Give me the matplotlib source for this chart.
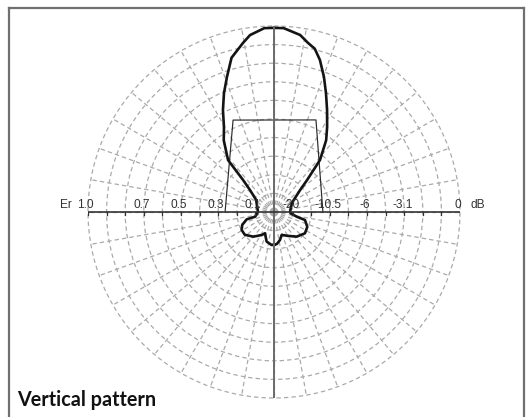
import numpy as np
import matplotlib
matplotlib.use("Agg")
import matplotlib.pyplot as plt
from matplotlib import font_manager as fm
from matplotlib.lines import Line2D

# ---------------- data ----------------
# field pattern: angle in degrees from vertical (positive = right), relative field (0..1)
pattern_theta = [-180, -176, -166, -157, -152, -140, -128, -119, -112, -105, -104,
                 -90, -56, -47.5, -44, -41.5, -35, -30.5, -26.6, -22.8, -19.2,
                 -15.4, -10.4, -7.7, -3, 0, 3, 8.4, 11.4, 14, 16.8, 20.3, 23.6,
                 27.5, 32, 36, 41.5, 46, 50, 63, 90, 94.5, 101.7, 104.5, 114,
                 124.5, 137.4, 149, 161.5, 168, 175, 180]
pattern_r = [0.176, 0.178, 0.164, 0.124, 0.140, 0.173, 0.199, 0.199, 0.184, 0.152, 0.105,
             0.086, 0.116, 0.175, 0.240, 0.373, 0.471, 0.530, 0.613, 0.694, 0.769,
             0.860, 0.924, 0.960, 0.990, 0.990, 0.990, 0.962, 0.927, 0.905, 0.854, 0.774, 0.698,
             0.618, 0.539, 0.477, 0.373, 0.247, 0.183, 0.108, 0.086, 0.090, 0.125, 0.172, 0.196,
             0.202, 0.180, 0.150, 0.130, 0.154, 0.173, 0.176]

# beamwidth bracket (thin line)
bracket_theta = [-90, -24, 24.5, 90]
bracket_r = [0.263, 0.541, 0.544, 0.263]

# scale labels along the horizontal axis
ring_r = [0.1, 0.2, 0.3, 0.4, 0.5, 0.6, 0.7, 0.8, 0.9, 1.0]
left_label_r = [1.0, 0.7, 0.5, 0.3, 0.1]
left_labels = ["1.0", "0.7", "0.5", "0.3", "0.1"]
right_label_r = [0.1, 0.3, 0.5, 0.7, 1.0]
right_labels = ["-20", "-10.5", "-6", "-3.1", "0"]
title_text = "Vertical pattern"

# ---------------- figure ----------------
W, H, DPI = 531, 417, 100
fig = plt.figure(figsize=(W / DPI, H / DPI), dpi=DPI)
fig.patch.set_facecolor("white")

cx, cy, R = 274.0, 205.0, 186.0   # pixels (from bottom-left)
rect = [(cx - R) / W, (cy - R) / H, 2 * R / W, 2 * R / H]

ax = fig.add_axes(rect, projection="polar")
ax.set_theta_zero_location("N")
ax.set_theta_direction(-1)
ax.set_ylim(0, 1.0)
ax.set_rgrids(ring_r, labels=[""] * len(ring_r))
ax.set_thetagrids(np.arange(0, 360, 10), labels=[""] * 36)
ax.grid(True, color="#aaaaaa", linestyle=(0, (3.5, 2.5)), linewidth=0.9)
for gl in ax.yaxis.get_gridlines() + ax.xaxis.get_gridlines():
    gl.set_clip_on(False)
ax.spines["polar"].set_visible(False)
ax.tick_params(length=0)
ax.patch.set_alpha(0)

ax.plot(np.deg2rad(pattern_theta), pattern_r, color="#141414", lw=1.9,
        solid_joinstyle="round", zorder=6)
ax.plot(np.deg2rad(bracket_theta), bracket_r, color="#2a2a2a", lw=0.85, zorder=5)

# overlay cartesian axes for the scale line and labels
ax2 = fig.add_axes(rect)
ax2.set_xlim(-1, 1)
ax2.set_ylim(-1, 1)
ax2.axis("off")
ax2.patch.set_visible(False)

px = 1.0 / R
ax2.plot([0, 0], [-1, 1], color="#6a6a6a", lw=1.4, zorder=4)
ax2.plot([-1, 1], [0, 0], color="#333333", lw=1.2, zorder=7)
for r in ring_r:
    for s in (-1, 1):
        ax2.plot([s * r, s * r], [0, -3 * px], color="#333333", lw=0.9, zorder=7)

names = {f.name for f in fm.fontManager.ttflist}
if "Liberation Sans Narrow" in names:
    lab_font, lab_size = "Liberation Sans Narrow", 10.0
else:
    lab_font, lab_size = "Liberation Sans", 8.6

lab_kw = dict(family=lab_font, size=lab_size, color="#333333",
              ha="center", va="baseline", zorder=8)
base_y = 4 * px
for r, t in zip(left_label_r, left_labels):
    ax2.text(-r - 2.5 * px, base_y, t, **lab_kw)
for r, t in zip(right_label_r, right_labels):
    ax2.text(r - 2 * px, base_y, t, **lab_kw)
ax2.text(-1 - 22 * px, base_y, "Er", **lab_kw)
ax2.text(1 + 18 * px, base_y, "dB", **lab_kw)

# frame
fc = "#707070"
fig.add_artist(Line2D([9 / W, 9 / W], [-0.05, (H - 8) / H], transform=fig.transFigure,
                      color=fc, lw=1.6))
fig.add_artist(Line2D([9 / W, 524 / W], [(H - 8) / H, (H - 8) / H], transform=fig.transFigure,
                      color=fc, lw=1.6))
fig.add_artist(Line2D([524 / W, 524 / W], [-0.05, (H - 8) / H], transform=fig.transFigure,
                      color=fc, lw=1.6))

fig.text(17 / W, 11 / H, title_text, family=["Lato", "DejaVu Sans"], fontweight="bold",
         size=14.2, color="#111111", ha="left", va="baseline")

fig.savefig("out.png", dpi=DPI)
